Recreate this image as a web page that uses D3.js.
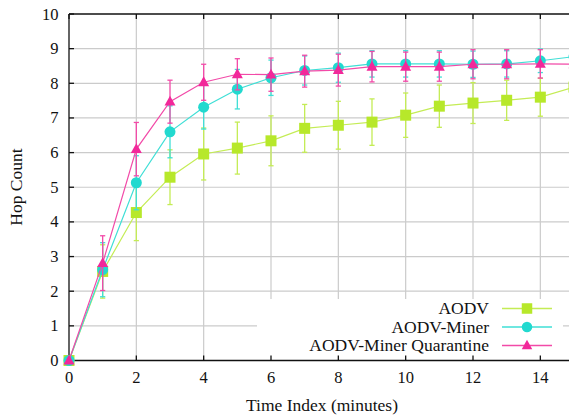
<!DOCTYPE html>
<html>
<head>
<meta charset="utf-8">
<script src="https://cdn.jsdelivr.net/npm/d3@7"></script>
<style>
html,body{margin:0;padding:0;background:#fff;}
svg{display:block;}
text{font-family:"Liberation Serif","DejaVu Serif",serif;fill:#111;}
</style>
</head>
<body>
<svg id="chart" width="569" height="416"></svg>
<script>
// ---- data ----
const timeIndex = [0,1,2,3,4,5,6,7,8,9,10,11,12,13,14,15];
const aodv        = [0,2.57,4.27,5.29,5.96,6.13,6.34,6.70,6.79,6.88,7.08,7.34,7.43,7.51,7.60,7.89];
const aodvErr     = [0,0.77,0.81,0.79,0.75,0.75,0.72,0.69,0.69,0.67,0.64,0.61,0.59,0.58,0.55,0.50];
const miner       = [0,2.62,5.13,6.60,7.31,7.83,8.16,8.37,8.45,8.56,8.56,8.56,8.55,8.56,8.65,8.77];
const minerErr    = [0,0.78,0.78,0.75,0.63,0.57,0.51,0.42,0.42,0.38,0.38,0.38,0.38,0.38,0.34,0.30];
const quarantine  = [0,2.81,6.10,7.47,8.03,8.26,8.25,8.35,8.38,8.48,8.48,8.48,8.55,8.55,8.56,8.55];
const quarantineErr=[0,0.79,0.77,0.62,0.52,0.45,0.48,0.46,0.46,0.44,0.42,0.42,0.42,0.42,0.41,0.40];
const seriesNames = ["AODV","AODV-Miner","AODV-Miner Quarantine"];
const xTicks = [0,2,4,6,8,10,12,14];
const yTicks = [0,1,2,3,4,5,6,7,8,9,10];
const xTitle = "Time Index (minutes)";
const yTitle = "Hop Count";

const colors = ["#b7e82a","#22d9cf","#f2289a"];
const lineColors = ["#c4ec55","#3fdfd6","#f24aa8"];
const shapes = ["square","circle","triangle"];

const svg = d3.select("#chart");
const x = d3.scaleLinear().domain([0,15]).range([69, 574]);
const y = d3.scaleLinear().domain([0,10]).range([360.5, 14]);

// grid
const grid = svg.append("g");
grid.selectAll("line.v").data(xTicks.filter(d=>d>0)).join("line")
  .attr("x1",d=>x(d)).attr("x2",d=>x(d)).attr("y1",y(0)).attr("y2",y(10))
  .attr("stroke","#cbcbcb").attr("stroke-width",1.2);
grid.selectAll("line.h").data(yTicks.filter(d=>d>0&&d<10)).join("line")
  .attr("x1",x(0)).attr("x2",569).attr("y1",d=>y(d)).attr("y2",d=>y(d))
  .attr("stroke","#cbcbcb").attr("stroke-width",1.2);

// legend background (covers grid)
svg.append("rect").attr("x",257).attr("y",299).attr("width",306).attr("height",61).attr("fill","#fff");

// axes frame
const frame = svg.append("g").attr("stroke","#111").attr("stroke-width",1.3);
frame.append("line").attr("x1",x(0)).attr("x2",569).attr("y1",y(0)).attr("y2",y(0));
frame.append("line").attr("x1",x(0)).attr("x2",569).attr("y1",y(10)).attr("y2",y(10));
frame.append("line").attr("x1",x(0)).attr("x2",x(0)).attr("y1",y(0)).attr("y2",y(10));
// ticks
frame.selectAll("line.bt").data(xTicks).join("line").attr("class","bt")
  .attr("x1",d=>x(d)).attr("x2",d=>x(d)).attr("y1",y(0)).attr("y2",y(0)-5);
frame.selectAll("line.tt").data(xTicks).join("line").attr("class","tt")
  .attr("x1",d=>x(d)).attr("x2",d=>x(d)).attr("y1",y(10)).attr("y2",y(10)+5);
frame.selectAll("line.lt").data(yTicks).join("line").attr("class","lt")
  .attr("x1",x(0)).attr("x2",x(0)+5).attr("y1",d=>y(d)).attr("y2",d=>y(d));

// tick labels
svg.append("g").selectAll("text").data(xTicks).join("text")
  .attr("x",d=>x(d)).attr("y",383).attr("text-anchor","middle")
  .attr("font-size",16.5).text(d=>d);
svg.append("g").selectAll("text").data(yTicks).join("text")
  .attr("x",58.5).attr("y",d=>y(d)+5.5).attr("text-anchor","end")
  .attr("font-size",16.5).text(d=>d);

// titles
svg.append("text").attr("x",322).attr("y",411).attr("text-anchor","middle")
  .attr("font-size",17.5).text(xTitle);
svg.append("text").attr("transform","translate(22,187) rotate(-90)")
  .attr("text-anchor","middle").attr("font-size",17.5).text(yTitle);

function marker(g, shape, cx, cy, color, s){
  if(shape==="square"){
    g.append("rect").attr("x",cx-s/2).attr("y",cy-s/2).attr("width",s).attr("height",s).attr("fill",color);
  } else if(shape==="circle"){
    g.append("circle").attr("cx",cx).attr("cy",cy).attr("r",s/2).attr("fill",color);
  } else {
    const h = s*0.9;
    g.append("path").attr("d",`M${cx},${cy-h*0.6}L${cx+s/2},${cy+h*0.4}L${cx-s/2},${cy+h*0.4}Z`).attr("fill",color);
  }
}

const allVals = [aodv, miner, quarantine];
const allErr = [aodvErr, minerErr, quarantineErr];
const plot = svg.append("g");
allVals.forEach((vals,i)=>{
  const g = plot.append("g");
  const pts = timeIndex.map((t,k)=>({t, v:vals[k], e:allErr[i][k]}));
  g.append("path").datum(pts)
    .attr("d", d3.line().x(d=>x(d.t)).y(d=>y(d.v)))
    .attr("fill","none").attr("stroke",lineColors[i]).attr("stroke-width",1.2);
  pts.filter(d=>d.e>0).forEach(d=>{
    const cx = x(d.t), y1 = y(d.v+d.e), y2 = y(d.v-d.e);
    g.append("line").attr("x1",cx).attr("x2",cx).attr("y1",y1).attr("y2",y2)
      .attr("stroke",lineColors[i]).attr("stroke-width",1.3);
    [y1,y2].forEach(yy=>g.append("line").attr("x1",cx-2.6).attr("x2",cx+2.6).attr("y1",yy).attr("y2",yy)
      .attr("stroke",lineColors[i]).attr("stroke-width",1.3));
  });
  pts.forEach(d=>marker(g, shapes[i], x(d.t), y(d.v), colors[i], 11));
});

// legend
const legY = [308.5, 327, 345.5];
const leg = svg.append("g");
seriesNames.forEach((name,i)=>{
  leg.append("text").attr("x",489).attr("y",legY[i]+5.5).attr("text-anchor","end")
    .attr("font-size",17.5).text(name);
  leg.append("line").attr("x1",502).attr("x2",552).attr("y1",legY[i]).attr("y2",legY[i])
    .attr("stroke",lineColors[i]).attr("stroke-width",1.4);
  marker(leg, shapes[i], 527, legY[i], colors[i], 10.5);
});
</script>
</body>
</html>
